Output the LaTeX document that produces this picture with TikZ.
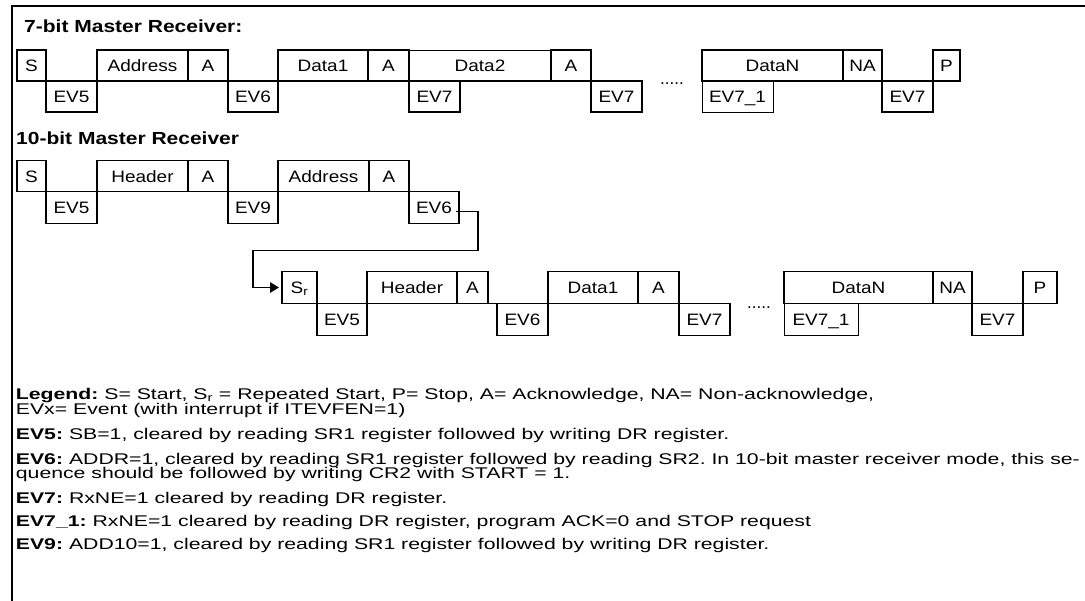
\documentclass[tikz,border=0pt]{standalone}
\usepackage{fontspec}
\setmainfont{Liberation Sans}
\newfontfamily\boxfnt[FakeStretch=1.15]{Liberation Sans}
\newfontfamily\titlefnt[FakeStretch=1.2]{Liberation Sans}
\newfontfamily\legfnt[FakeStretch=1.37]{Liberation Sans}
\usetikzlibrary{arrows.meta}
\begin{document}
\frenchspacing
\begin{tikzpicture}[x=1pt,y=-1pt,
  bx/.style={draw, line width=1.4pt, inner sep=0pt, outer sep=0pt, anchor=north west,
    minimum height=31pt, font=\boxfnt\fontsize{16.5}{18}\selectfont, text height=11.8pt, text depth=0pt},
  lo/.style={bx, minimum height=32pt},
  thinbx/.style={bx, line width=0.7pt, minimum height=31pt},
  lg/.style={anchor=base west, inner sep=0pt, font=\legfnt\fontsize{15.5}{17}\selectfont},
  ttl/.style={anchor=base west, inner sep=0pt, font=\titlefnt\bfseries\fontsize{17.5}{20}\selectfont},
  dotsty/.style={anchor=base west, inner sep=0pt, font=\fontsize{17}{18}\selectfont},
  conn/.style={line width=1.4pt}]
\useasboundingbox (0,0) rectangle (1085,601);
% frame
\draw[line width=1.8pt] (11.7,601) |- (1085,5.7);
% ---------- 7-bit ----------
\node[ttl] (t1) at (24,33) {7-bit Master Receiver:};
\node[bx, minimum width=29pt] (a1) at (17,50) {S};
\node[bx, minimum width=91pt] (a2) at (97,50) {Address};
\node[bx, minimum width=40pt] (a3) at (188,50) {A};
\node[bx, minimum width=90pt] (a4) at (278,50) {Data1};
\node[bx, minimum width=41pt] (a5) at (368,50) {A};
\node[bx, draw=none, minimum width=142pt] (a6) at (409,50) {Data2};
\draw[line width=0.7pt] (a6.north west) -- (a6.north east);
\draw[line width=1.4pt] (a6.south west) -- (a6.south east);
\node[bx, minimum width=40pt] (a7) at (551,50) {A};
\node[bx, minimum width=141pt] (a8) at (702,50) {DataN};
\node[bx, minimum width=39pt] (a9) at (843,50) {NA};
\node[bx, minimum width=27pt] (a10) at (933,50) {P};
\node[bx, minimum width=51pt] (e1) at (46,81) {EV5};
\node[bx, minimum width=50pt] (e2) at (228,81) {EV6};
\node[bx, minimum width=51pt] (e3) at (409,81) {EV7};
\node[bx, minimum width=51pt] (e4) at (591,81) {EV7};
\node[thinbx, minimum width=71pt] (e5) at (702,81) {EV7\_1};
\node[bx, minimum width=51pt] (e6) at (882,81) {EV7};
\node[dotsty] (d1) at (660,85) {.....};
% ---------- 10-bit ----------
\node[ttl] (t2) at (16,145) {10-bit Master Receiver};
\node[bx, minimum width=29pt] (b1) at (17,160.7) {S};
\node[bx, minimum width=91pt] (b2) at (97,160.7) {Header};
\node[bx, minimum width=40pt] (b3) at (188,160.7) {A};
\node[bx, minimum width=91pt] (b4) at (278,160.7) {Address};
\node[bx, minimum width=40pt] (b5) at (369,160.7) {A};
\node[lo, minimum width=51pt] (f1) at (46,191.7) {EV5};
\node[lo, minimum width=50pt] (f2) at (228,191.7) {EV9};
\node[lo, minimum width=50pt] (f3) at (409,191.7) {EV6};
% second line
\node[bx, minimum height=31.6pt, minimum width=35pt] (c1) at (282,271.7) {S\textsubscript{r}};
\node[bx, minimum height=31.6pt, minimum width=90pt] (c2) at (367,271.7) {Header};
\node[bx, minimum height=31.6pt, minimum width=31pt] (c3) at (457,271.7) {A};
\node[bx, minimum height=31.6pt, minimum width=90pt] (c4) at (548,271.7) {Data1};
\node[bx, minimum height=31.6pt, minimum width=41pt] (c5) at (638,271.7) {A};
\node[bx, minimum height=31.6pt, minimum width=149pt] (c6) at (784,271.7) {DataN};
\node[bx, minimum height=31.6pt, minimum width=39pt] (c7) at (933,271.7) {NA};
\node[bx, minimum height=31.6pt, minimum width=34pt] (c8) at (1023,271.7) {P};
\node[lo, minimum width=50pt] (g1) at (317,303.3) {EV5};
\node[lo, minimum width=51pt] (g2) at (497,303.3) {EV6};
\node[lo, minimum width=51pt] (g3) at (679,303.3) {EV7};
\node[thinbx, minimum height=32pt, minimum width=74pt] (g4) at (784,303.3) {EV7\_1};
\node[lo, minimum width=51pt] (g5) at (972,303.3) {EV7};
\draw[line width=1.4pt] (c3.south east) -- (g2.north west);
\node[dotsty] (d2) at (747,308.5) {.....};
% connector
\coordinate (k0) at (478,211.7);
\coordinate (k1) at (478,250.5);
\coordinate (k2) at (253,250.5);
\draw[conn, -{Triangle[length=9pt,width=10.5pt]}, shorten >=3pt]
  ([xshift=-3pt,yshift=-4pt]f3.east) -- (k0) -- (k1) -- (k2) |- (c1.west);
% ---------- legend ----------
\node[lg] (l1) at (15.7,399.3) {\textbf{Legend:} S= Start, S\textsubscript{r} = Repeated Start, P= Stop, A= Acknowledge, NA= Non-acknowledge,};
\node[lg] (l2) at (15.7,415) {EVx= Event (with interrupt if ITEVFEN=1)};
\node[lg] (l3) at (15.7,440) {\textbf{EV5:} SB=1, cleared by reading SR1 register followed by writing DR register.};
\node[lg] (l4) at (15.7,464.3) {\textbf{EV6:} ADDR=1, cleared by reading SR1 register followed by reading SR2. In 10-bit master receiver mode, this se-};
\node[lg] (l5) at (15.7,478.3) {quence should be followed by writing CR2 with START = 1.};
\node[lg] (l6) at (15.7,503.3) {\textbf{EV7:} RxNE=1 cleared by reading DR register.};
\node[lg] (l7) at (15.7,526.7) {\textbf{EV7\_1:} RxNE=1 cleared by reading DR register, program ACK=0 and STOP request};
\node[lg] (l8) at (15.7,550) {\textbf{EV9:} ADD10=1, cleared by reading SR1 register followed by writing DR register.};
\end{tikzpicture}
\end{document}
